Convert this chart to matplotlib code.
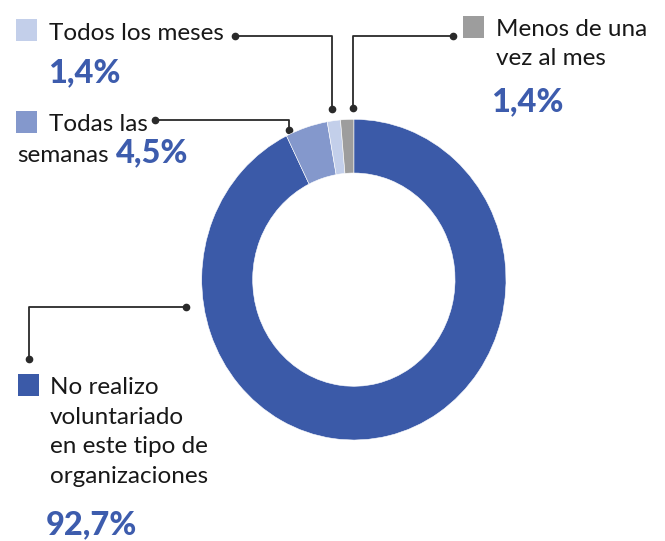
import matplotlib
matplotlib.use('Agg')
import matplotlib.pyplot as plt

# data
labels = ['No realizo voluntariado en este tipo de organizaciones',
          'Todas las semanas', 'Todos los meses', 'Menos de una vez al mes']
values = [92.7, 4.5, 1.4, 1.4]
pct_text = ['92,7%', '4,5%', '1,4%', '1,4%']
colors = ['#3B5AA8', '#8498CC', '#C3CFEA', '#9D9D9D']

W, H = 665, 541
plt.rcParams['font.family'] = ['Lato', 'DejaVu Sans']
fig = plt.figure(figsize=(W / 100, H / 100), dpi=100)

# overlay axes in pixel coords for texts and leader lines
bg = fig.add_axes([0, 0, 1, 1])
bg.set_xlim(0, W)
bg.set_ylim(H, 0)
bg.axis('off')

# donut (slightly taller than wide, like the reference)
x0, x1, y0, y1 = 201.7, 506.0, 119.3, 440.0
ax = fig.add_axes([x0 / W, 1 - y1 / H, (x1 - x0) / W, (y1 - y0) / H])
ax.pie(values, colors=colors, startangle=90, counterclock=False, radius=1.0,
       wedgeprops=dict(width=0.335, edgecolor='white', linewidth=0.4))
ax.set_aspect('auto')
ax.set_xlim(-1, 1)
ax.set_ylim(-1, 1)
ax.axis('off')

txt = '#181818'
blue = '#3D5CAD'
line_c = '#2a2a2a'
fs = 17.5
fs_pct = 23.5
pw = 'black'


def square(x, y, c):
    bg.add_patch(plt.Rectangle((x, y), 21, 21.5, color=c, lw=0))


def leader(pts):
    xs = [p[0] for p in pts]
    ys = [p[1] for p in pts]
    bg.plot(xs, ys, color=line_c, lw=1.3, solid_capstyle='butt')
    bg.plot([xs[0], xs[-1]], [ys[0], ys[-1]], 'o', color=line_c, ms=4.5)


# Todos los meses
square(16, 19, colors[2])
bg.text(49, 39.5, 'Todos los meses', fontsize=fs, color=txt, va='baseline')
bg.text(48, 82, pct_text[2], fontsize=fs_pct, color=blue, fontweight=pw, va='baseline')
leader([(235, 36), (332, 36), (332, 108.5)])

# Todas las semanas
square(16, 111, colors[1])
bg.text(49, 131, 'Todas las', fontsize=fs, color=txt, va='baseline')
bg.text(17.5, 162.5, 'semanas', fontsize=fs, color=txt, va='baseline')
bg.text(116, 162.5, pct_text[1], fontsize=fs_pct, color=blue, fontweight=pw, va='baseline')
leader([(155, 120), (288.5, 120), (288.5, 129.5)])

# Menos de una vez al mes
square(463, 16, colors[3])
bg.text(495.5, 36, 'Menos de una', fontsize=fs, color=txt, va='baseline')
bg.text(495.5, 65, 'vez al mes', fontsize=fs, color=txt, va='baseline')
bg.text(491.5, 111.5, pct_text[3], fontsize=fs_pct, color=blue, fontweight=pw, va='baseline')
leader([(453, 35.7), (352.7, 35.7), (352.7, 108.3)])

# No realizo voluntariado
square(18, 374, colors[0])
for i, s in enumerate(['No realizo', 'voluntariado', 'en este tipo de', 'organizaciones']):
    bg.text(50, 394 + i * 29.7, s, fontsize=fs, color=txt, va='baseline')
bg.text(45.5, 534, pct_text[0], fontsize=fs_pct, color=blue, fontweight=pw, va='baseline')
leader([(186, 306.7), (29, 306.7), (29, 359.3)])

fig.savefig('out.png', dpi=100)
